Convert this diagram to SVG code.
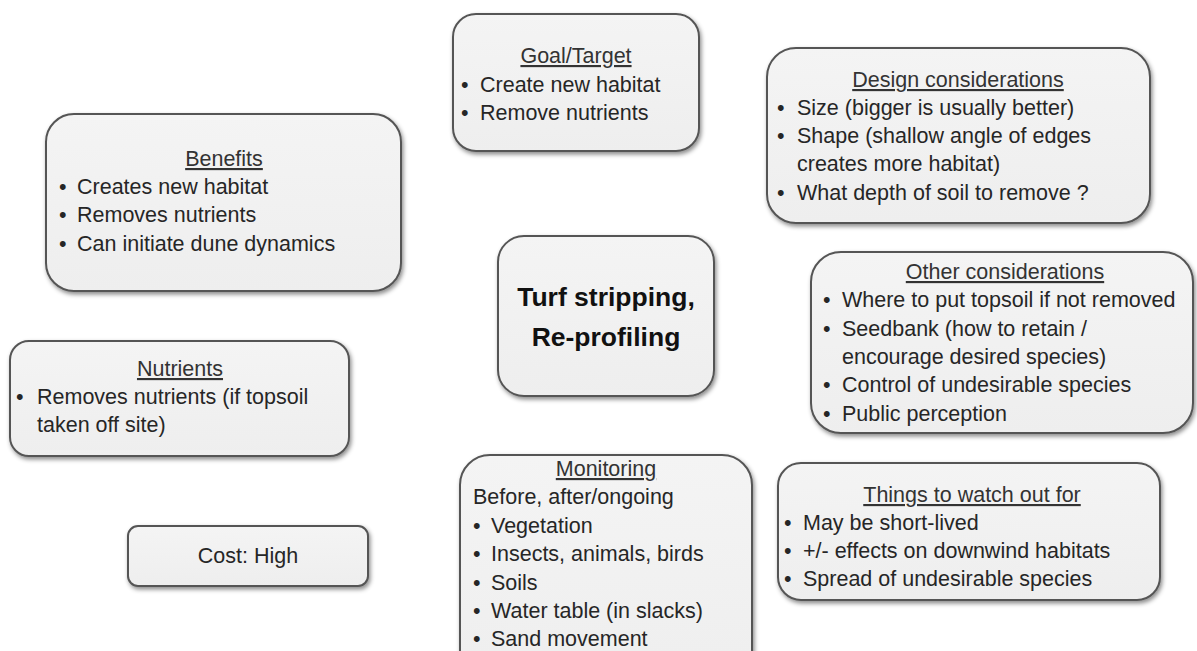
<svg xmlns="http://www.w3.org/2000/svg" width="1197" height="651" viewBox="0 0 1197 651">
<defs>
<filter id="sh" x="-10%" y="-10%" width="125%" height="130%">
<feDropShadow dx="1.5" dy="2.5" stdDeviation="2" flood-color="#000" flood-opacity="0.45"/>
</filter>
<linearGradient id="fill" x1="0" y1="0" x2="0" y2="1">
<stop offset="0" stop-color="#f4f4f4"/>
<stop offset="0.5" stop-color="#f1f1f1"/>
<stop offset="1" stop-color="#eeeeee"/>
</linearGradient>
</defs>
<style>
.box{fill:url(#fill);stroke:#555;stroke-width:2;filter:url(#sh)}
text{font-family:"Liberation Sans",Arial,sans-serif;font-size:21.5px;fill:#262626}
.t{text-anchor:middle;text-decoration:underline;fill:#333}
.c{text-anchor:middle}
.big{font-weight:bold;font-size:26.5px;text-anchor:middle;fill:#111}
</style>
<rect width="1197" height="651" fill="#fff"/>
<g id="connectors"/>

<g id="goal">
<rect class="box" x="453" y="14" width="246" height="137" rx="23"/>
<text class="t" x="576" y="63">Goal/Target</text>
<text x="461" y="92">•</text><text x="480" y="92">Create new habitat</text>
<text x="461" y="120">•</text><text x="480" y="120">Remove nutrients</text>
</g>

<g id="design">
<rect class="box" x="767" y="48" width="383" height="175" rx="29"/>
<text class="t" x="958" y="87">Design considerations</text>
<text x="777" y="115">•</text><text x="797" y="115">Size (bigger is usually better)</text>
<text x="777" y="143">•</text><text x="797" y="143">Shape (shallow angle of edges</text>
<text x="797" y="171">creates more habitat)</text>
<text x="777" y="200">•</text><text x="797" y="200">What depth of soil to remove ?</text>
</g>

<g id="benefits">
<rect class="box" x="46" y="114" width="355" height="177" rx="28"/>
<text class="t" x="224" y="166">Benefits</text>
<text x="59" y="194">•</text><text x="77" y="194">Creates new habitat</text>
<text x="59" y="222">•</text><text x="77" y="222">Removes nutrients</text>
<text x="59" y="251">•</text><text x="77" y="251">Can initiate dune dynamics</text>
</g>

<g id="center">
<rect class="box" x="498" y="236" width="216" height="160" rx="26"/>
<text class="big" x="606" y="306">Turf stripping,</text>
<text class="big" x="606" y="346">Re-profiling</text>
</g>

<g id="other">
<rect class="box" x="811" y="252" width="382" height="181" rx="30"/>
<text class="t" x="1005" y="279">Other considerations</text>
<text x="823" y="307">•</text><text x="842" y="307">Where to put topsoil if not removed</text>
<text x="823" y="336">•</text><text x="842" y="336">Seedbank (how to retain /</text>
<text x="842" y="364">encourage desired species)</text>
<text x="823" y="392">•</text><text x="842" y="392">Control of undesirable species</text>
<text x="823" y="421">•</text><text x="842" y="421">Public perception</text>
</g>

<g id="nutrients">
<rect class="box" x="10" y="341" width="339" height="115" rx="19"/>
<text class="t" x="180" y="376">Nutrients</text>
<text x="16" y="404">•</text><text x="37" y="404">Removes nutrients (if topsoil</text>
<text x="37" y="432">taken off site)</text>
</g>

<g id="cost">
<rect class="box" x="128" y="526" width="240" height="60" rx="10"/>
<text class="c" x="248" y="563">Cost: High</text>
</g>

<g id="monitoring">
<rect class="box" x="460" y="455" width="292" height="240" rx="30"/>
<text class="t" x="606" y="476">Monitoring</text>
<text x="473" y="504">Before, after/ongoing</text>
<text x="473" y="533">•</text><text x="491" y="533">Vegetation</text>
<text x="473" y="561">•</text><text x="491" y="561">Insects, animals, birds</text>
<text x="473" y="590">•</text><text x="491" y="590">Soils</text>
<text x="473" y="618">•</text><text x="491" y="618">Water table (in slacks)</text>
<text x="473" y="646">•</text><text x="491" y="646">Sand movement</text>
</g>

<g id="watch">
<rect class="box" x="778" y="463" width="382" height="137" rx="23"/>
<text class="t" x="972" y="502">Things to watch out for</text>
<text x="784" y="530">•</text><text x="803" y="530">May be short-lived</text>
<text x="784" y="558">•</text><text x="803" y="558">+/- effects on downwind habitats</text>
<text x="784" y="586">•</text><text x="803" y="586">Spread of undesirable species</text>
</g>
</svg>
